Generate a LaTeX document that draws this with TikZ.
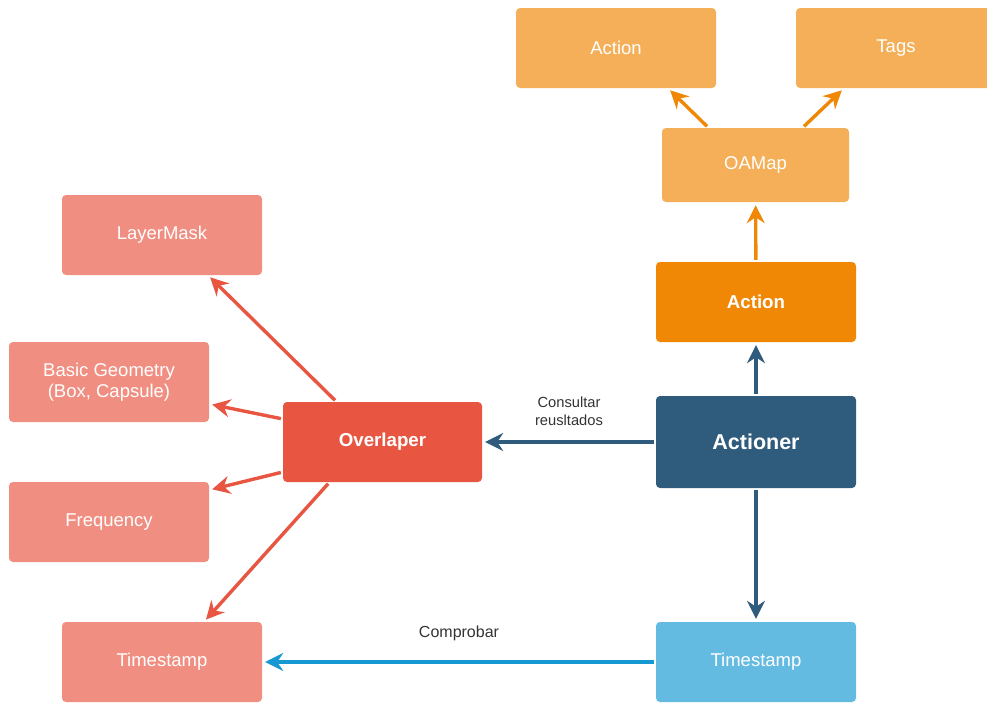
\documentclass[tikz,border=0pt]{standalone}
\usepackage{fontspec}
\setmainfont{Liberation Sans}
\usetikzlibrary{arrows.meta,positioning}
\definecolor{lightorange}{HTML}{F5AF58}
\definecolor{darkorange}{HTML}{F08705}
\definecolor{navy}{HTML}{2F5B7C}
\definecolor{skyblue}{HTML}{64BBE2}
\definecolor{brightblue}{HTML}{1699D3}
\definecolor{tomato}{HTML}{E85642}
\definecolor{salmon}{HTML}{F08E81}

\begin{document}
\begin{tikzpicture}[
  x=1pt, y=-1pt,
  box/.style={rounded corners=4pt, minimum width=200pt, minimum height=80pt, align=center, text=white, font=\fontsize{18.5}{21}\selectfont},
  boldbox/.style={box, font=\fontsize{18.7}{21}\selectfont\bfseries},
  arr/.style={-{Stealth[length=18pt, width=18pt, inset=6pt]}, line width=3.4pt, shorten <=2pt, shorten >=3pt},
  lbl/.style={text=black!80, align=center, font=\fontsize{14.7}{18}\selectfont}
]
  \useasboundingbox (0,0) rectangle (987,704);

  % right column
  \node[box, fill=lightorange] (act) at (616,48) {Action};
  \node[box, fill=lightorange] (tags) at (896,48) {Tags};
  \node[box, fill=lightorange, minimum width=187pt, minimum height=74pt] (oamap) at (755.5,165) {OAMap};
  \node[boldbox, fill=darkorange] (action) at (756,302) {Action};
  \node[boldbox, fill=navy, minimum height=92pt, font=\fontsize{21.5}{25}\selectfont\bfseries] (actioner) at (756,442) {Actioner};
  \node[box, fill=skyblue] (tsright) at (756,662) {Timestamp};

  % left side
  \node[boldbox, fill=tomato, minimum width=199pt] (olap) at (382.5,442) {Overlaper};
  \node[box, fill=salmon] (mask) at (162,235) {LayerMask};
  \node[box, fill=salmon] (geom) at (109,382) {Basic Geometry\\(Box, Capsule)};
  \node[box, fill=salmon] (freq) at (109,522) {Frequency};
  \node[box, fill=salmon] (tsleft) at (162,662) {Timestamp};

  \draw[arr, darkorange] ([xshift=-47pt]oamap.north) -- ([xshift=52pt]act.south);
  \draw[arr, darkorange] ([xshift=47pt]oamap.north) -- ([xshift=-52pt]tags.south);
  \draw[arr, darkorange] (action) -- (oamap);
  \draw[arr, navy] (actioner) -- (action);
  \draw[arr, navy] (actioner) -- (tsright);
  \draw[arr, navy] (actioner) -- node[lbl, above=11pt] (consult) {Consultar\\reusltados} (olap);
  \draw[arr, brightblue] (tsright) -- node[lbl, above=16pt, font=\fontsize{16}{19}\selectfont] (check) {Comprobar} (tsleft);

  \draw[arr, tomato] ([xshift=-46pt]olap.north) -- ([xshift=46pt]mask.south);
  \draw[arr, tomato] ([yshift=23pt]olap.west) -- ([yshift=-22pt]geom.east);
  \draw[arr, tomato] ([yshift=-30pt]olap.west) -- ([yshift=32pt]freq.east);
  \draw[arr, tomato] ([xshift=-53pt]olap.south) -- ([xshift=42pt]tsleft.north);
\end{tikzpicture}
\end{document}
